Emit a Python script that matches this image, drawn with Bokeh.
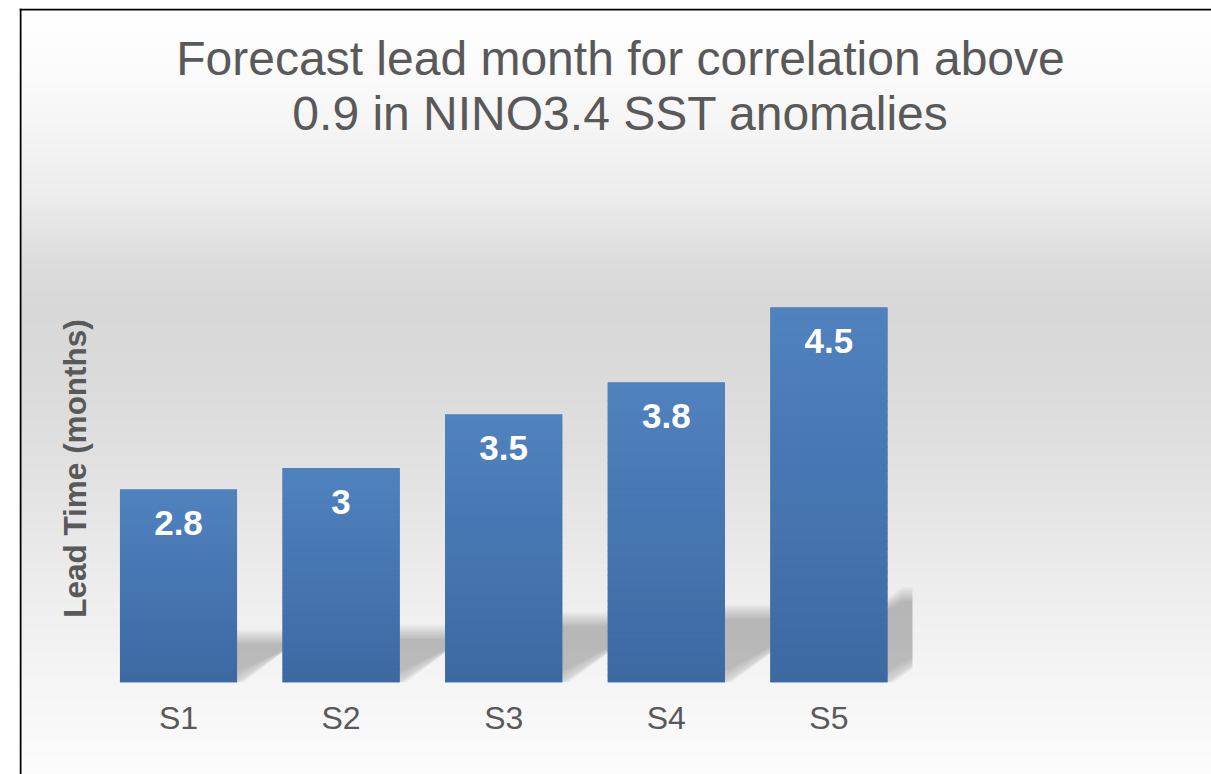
import numpy as np
from bokeh.plotting import figure
from bokeh.models import Label, Span, FixedTicker
from bokeh.embed import file_html
from bokeh.resources import INLINE
from bokeh.core.properties import value

# ---------------- data ----------------
categories = ["S1", "S2", "S3", "S4", "S5"]
lead_months = [2.8, 3.0, 3.5, 3.8, 4.5]
y_axis_min = 1.0
title_lines = ["Forecast lead month for correlation above",
               "0.9 in NINO3.4 SST anomalies"]
y_label = "Lead Time (months)"

# ---------------- layout (pixels) ----------------
W, H = 1211, 774          # canvas
ML, MT = 19, 8            # frame offsets in canvas
CX0 = 178.0               # canvas x of first category
SPX = 162.6               # px per category
BASE_Y = 681.7            # canvas y of axis minimum
SPY = 107.06              # px per month
FONT = "Liberation Sans"
TXT = "#595959"

px_x = 1.0 / SPX
px_y = 1.0 / SPY
x0 = 1 + (ML - CX0) / SPX
x1 = 1 + (W - CX0) / SPX
y0 = y_axis_min - (H - BASE_Y) / SPY
y1 = y_axis_min + (BASE_Y - MT) / SPY

def cy_to_v(cy):
    return y_axis_min + (BASE_Y - cy) / SPY

def cx_to_x(cx):
    return 1 + (cx - CX0) / SPX

p = figure(width=W, height=H, x_range=(x0, x1), y_range=(y0, y1),
           output_backend="svg", toolbar_location=None,
           min_border_left=ML, min_border_right=0,
           min_border_top=MT, min_border_bottom=0)
p.background_fill_color = "white"
p.border_fill_color = "white"
p.outline_line_color = None
p.grid.visible = False
p.yaxis.visible = False

# ---------------- background gradient ----------------
stop_y = [8, 58, 128, 198, 263, 308, 368, 428, 508, 588, 658, 708, 774]
stop_g = [255, 252, 245, 236, 220, 216, 218, 222, 229, 237, 243, 247, 252]
edges = np.arange(MT, H + 4, 4.0)
bl, bt, bc = [], [], []
for a, b in zip(edges[:-1], edges[1:]):
    g = int(round(np.interp((a + b) / 2, stop_y, stop_g)))
    bt.append(cy_to_v(a - 0.5))
    bl.append(cy_to_v(b + 0.5))
    bc.append("#%02x%02x%02x" % (g, g, g))
p.quad(left=x0, right=x1, bottom=bl, top=bt, fill_color=bc, line_color=None)

# ---------------- shadows ----------------
bar_w = 0.72
shadow_ratio = 0.235
shadow_slant = 1.5          # horizontal px per vertical px of shadow
plot_right = cx_to_x(912)

def clip_x(xs, ys, c):
    ox, oy = [], []
    n = len(xs)
    for i in range(n):
        xa, ya = xs[i], ys[i]
        xb, yb = xs[(i + 1) % n], ys[(i + 1) % n]
        ina, inb = xa <= c, xb <= c
        if ina:
            ox.append(xa); oy.append(ya)
        if ina != inb:
            t = (c - xa) / (xb - xa)
            ox.append(c); oy.append(ya + t * (yb - ya))
    return ox, oy

xpos = list(range(1, len(categories) + 1))
for grow in np.linspace(-7, 7, 9):
    sxs, sys_ = [], []
    for xp, v in zip(xpos, lead_months):
        b = y_axis_min
        h = shadow_ratio * (v - b)
        dx = shadow_slant * h * SPY * px_x
        xl = xp - bar_w / 2
        xr = xp + bar_w / 2 + grow * px_x
        bb = b + max(0.0, -grow) * px_y
        t = b + h + grow * px_y
        xs = [xl, xr, xr + dx, xl + dx]
        ys = [bb, bb, t, t]
        xs, ys = clip_x(xs, ys, plot_right)
        sxs.append(xs); sys_.append(ys)
    p.patches(xs=sxs, ys=sys_, fill_color="black", fill_alpha=0.026, line_color=None)

# ---------------- bars (vertical gradient) ----------------
top_rgb = np.array([80, 130, 190])
bot_rgb = np.array([60, 105, 162])
p.vbar(x=xpos, width=bar_w, bottom=y_axis_min, top=lead_months,
       fill_color="#466fa8", line_color=None)
N = 48
for i in range(N):
    f = (i + 0.5) / N
    c = bot_rgb + (top_rgb - bot_rgb) * f
    col = "#%02x%02x%02x" % tuple(int(round(k)) for k in c)
    bots = [y_axis_min + (v - y_axis_min) * i / N for v in lead_months]
    tops = [y_axis_min + (v - y_axis_min) * min(1.0, (i + 1.15) / N) for v in lead_months]
    p.vbar(x=xpos, width=bar_w, bottom=bots, top=tops, fill_color=col, line_color=None)

# value labels
p.text(x=xpos, y=lead_months, text=[f"{v:g}" for v in lead_months],
       text_font=value(FONT), text_font_style="bold", text_font_size="35px",
       text_color="white", text_align="center", text_baseline="middle",
       y_offset=33.5)

# ---------------- axis ----------------
ax = p.xaxis[0]
ax.fixed_location = y_axis_min
ax.ticker = FixedTicker(ticks=xpos)
ax.major_label_overrides = {x: c for x, c in zip(xpos, categories)}
ax.axis_line_color = None
ax.major_tick_line_color = None
ax.minor_tick_line_color = None
ax.major_tick_out = 0
ax.major_tick_in = 0
ax.major_label_standoff = 18
ax.major_label_text_font = FONT
ax.major_label_text_font_size = "32px"
ax.major_label_text_color = TXT

# ---------------- titles / labels ----------------
for line, cyc in zip(title_lines, [57.5, 112.5]):
    p.add_layout(Label(x=cx_to_x(620), y=cy_to_v(cyc), text=line,
                       text_align="center", text_baseline="middle",
                       text_font=FONT, text_font_size="48px", text_color=TXT))

p.add_layout(Label(x=cx_to_x(74.5), y=cy_to_v(468), text=y_label, angle=np.pi / 2,
                   text_align="center", text_baseline="middle",
                   text_font=FONT, text_font_style="bold", text_font_size="31.5px",
                   text_color=TXT))

# ---------------- frame border (top & left only) ----------------
p.add_layout(Span(location=x0 + 1 * px_x, dimension="height",
                  line_color="black", line_width=2))
p.add_layout(Span(location=y1 - 1 * px_y, dimension="width",
                  line_color="black", line_width=2))

open("out.html", "w").write(file_html(p, INLINE))
